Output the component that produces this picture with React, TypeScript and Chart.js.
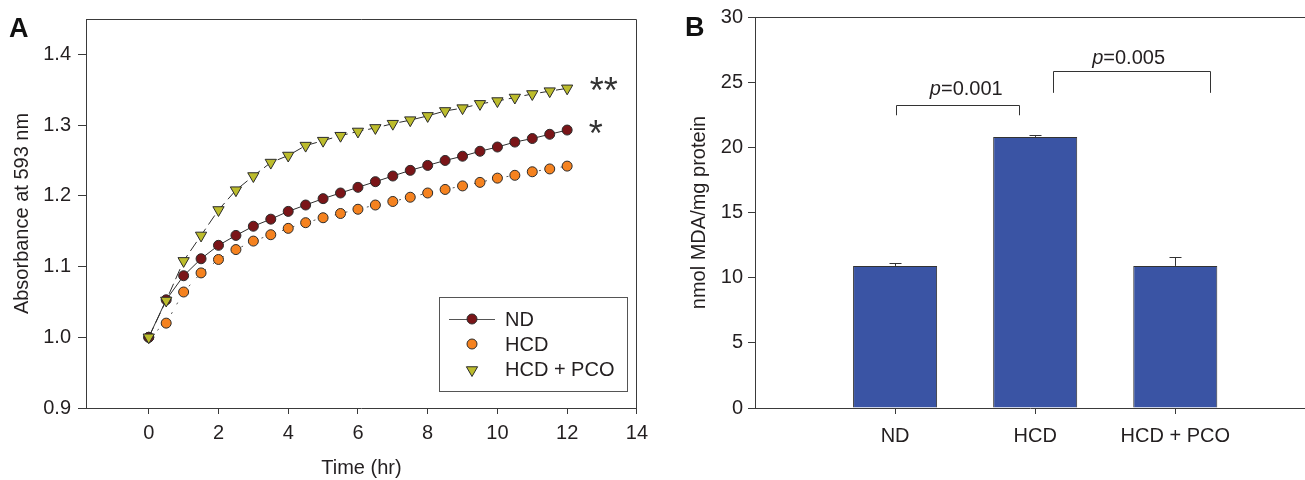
import React, { useEffect, useRef } from 'react';
import { Chart, registerables } from 'chart.js';

Chart.register(...registerables);

const FONT_FAMILY = "'Liberation Sans', Arial, Helvetica, sans-serif";
const TEXT_COLOR = '#231f20';
const AXIS_COLOR = '#3a3a3a';

// ---------- Panel A data ----------
const timeHr = [0, 0.5, 1, 1.5, 2, 2.5, 3, 3.5, 4, 4.5, 5, 5.5, 6, 6.5, 7, 7.5, 8, 8.5, 9, 9.5, 10, 10.5, 11, 11.5, 12];
const ndAbs = [1.0, 1.053, 1.087, 1.111, 1.13, 1.144, 1.157, 1.167, 1.178, 1.187, 1.196, 1.204, 1.212, 1.22, 1.228, 1.236, 1.243, 1.25, 1.256, 1.263, 1.269, 1.276, 1.281, 1.287, 1.293];
const hcdAbs = [1.0, 1.02, 1.064, 1.091, 1.11, 1.124, 1.136, 1.145, 1.154, 1.162, 1.169, 1.175, 1.181, 1.187, 1.192, 1.198, 1.204, 1.209, 1.214, 1.219, 1.225, 1.229, 1.234, 1.238, 1.242];
const hcdPcoAbs = [1.0, 1.052, 1.108, 1.144, 1.18, 1.208, 1.228, 1.247, 1.257, 1.271, 1.278, 1.285, 1.291, 1.296, 1.302, 1.307, 1.313, 1.32, 1.324, 1.33, 1.334, 1.339, 1.344, 1.348, 1.352];
const seriesNamesA = ['ND', 'HCD', 'HCD + PCO'];
const xTicksA = [0, 2, 4, 6, 8, 10, 12, 14];
const yTicksA = [0.9, 1.0, 1.1, 1.2, 1.3, 1.4];
const starLabels = ['**', '*'];
const starAt = [[13.05, 1.358], [12.82, 1.297]];

// ---------- Panel B data ----------
const groups = ['ND', 'HCD', 'HCD + PCO'];
const groupPos = [1, 2, 3];
const mdaMeans = [10.9, 20.8, 10.9];
const mdaErr = [0.2, 0.18, 0.7];
const yTicksB = [0, 5, 10, 15, 20, 25, 30];
const pValues = ['0.001', '0.005'];
// x1, x2, top level, leg end (data units)
const brackets = [[1.01, 1.886, 23.28, 22.46], [2.126, 3.245, 25.85, 24.18]];
const pLabelAt = [[1.508, 24.59], [2.667, 26.94]];

const COLORS = {
  nd: '#7a1518',
  hcd: '#f5821f',
  pco: '#bcbc2c',
  marker: '#2b2b2b',
  bar: '#3a54a4',
};

function font(size: number, style = 'normal', weight = 'normal') {
  return `${style} ${weight} ${size}px ${FONT_FAMILY}`;
}

function drawGlyphCentered(ctx: CanvasRenderingContext2D, text: string, cx: number, cy: number) {
  ctx.textAlign = 'left';
  ctx.textBaseline = 'alphabetic';
  const m = ctx.measureText(text);
  const w = m.actualBoundingBoxLeft + m.actualBoundingBoxRight;
  const x = cx - w / 2 + m.actualBoundingBoxLeft;
  const y = cy + (m.actualBoundingBoxAscent - m.actualBoundingBoxDescent) / 2;
  ctx.fillText(text, x, y);
}

function drawCircle(ctx: CanvasRenderingContext2D, x: number, y: number, r: number, fill: string) {
  ctx.beginPath();
  ctx.arc(x, y, r, 0, Math.PI * 2);
  ctx.fillStyle = fill;
  ctx.fill();
  ctx.lineWidth = 1;
  ctx.strokeStyle = COLORS.marker;
  ctx.stroke();
}

function drawTriDown(ctx: CanvasRenderingContext2D, x: number, y: number, r: number, fill: string) {
  ctx.beginPath();
  for (let k = 0; k < 3; k++) {
    const a = Math.PI + (k * 2 * Math.PI) / 3;
    const px = x + Math.sin(a) * r;
    const py = y - Math.cos(a) * r;
    if (k === 0) ctx.moveTo(px, py);
    else ctx.lineTo(px, py);
  }
  ctx.closePath();
  ctx.fillStyle = fill;
  ctx.fill();
  ctx.lineWidth = 1;
  ctx.strokeStyle = COLORS.marker;
  ctx.stroke();
}

const panelAPlugin = {
  id: 'panelA',
  afterDraw(chart: any) {
    const { ctx, chartArea: ca, scales } = chart;
    const xs = scales.x;
    const ys = scales.y;
    ctx.save();
    // frame top + right
    ctx.strokeStyle = AXIS_COLOR;
    ctx.lineWidth = 1;
    ctx.beginPath();
    const t = Math.round(ca.top) + 0.5;
    const r = Math.round(ca.right) - 0.5;
    ctx.moveTo(ca.left, t);
    ctx.lineTo(r, t);
    ctx.lineTo(r, ca.bottom);
    ctx.stroke();

    // significance stars
    ctx.fillStyle = '#333333';
    ctx.font = font(36);
    starLabels.forEach((s, i) => {
      drawGlyphCentered(ctx, s, xs.getPixelForValue(starAt[i][0]), ys.getPixelForValue(starAt[i][1]));
    });

    // legend
    const L = 439.5, T = 297.5, R = 627.5, B = 391.5;
    ctx.strokeStyle = '#555555';
    ctx.lineWidth = 1;
    ctx.strokeRect(L, T, R - L, B - T);
    const rows = [319, 344, 369];
    const mx = 472;
    ctx.beginPath();
    ctx.strokeStyle = '#555555';
    ctx.moveTo(449, rows[0] + 0.5);
    ctx.lineTo(495, rows[0] + 0.5);
    ctx.stroke();
    drawCircle(ctx, mx, rows[0], 5, COLORS.nd);
    drawCircle(ctx, mx, rows[1], 5, COLORS.hcd);
    drawTriDown(ctx, mx, rows[2] + 1, 6.5, COLORS.pco);
    ctx.fillStyle = TEXT_COLOR;
    ctx.font = font(20);
    ctx.textAlign = 'left';
    ctx.textBaseline = 'alphabetic';
    seriesNamesA.forEach((n, i) => {
      ctx.fillText(n, 505, rows[i] + 7.2);
    });

    // panel letter
    ctx.font = font(27, 'normal', 'bold');
    ctx.fillStyle = '#111111';
    ctx.fillText('A', 9, 37);
    ctx.restore();
  },
};

const panelBPlugin = {
  id: 'panelB',
  afterDraw(chart: any) {
    const { ctx, chartArea: ca, scales } = chart;
    const xs = scales.x;
    const ys = scales.y;
    ctx.save();
    ctx.strokeStyle = AXIS_COLOR;
    ctx.lineWidth = 1;
    const t = Math.round(ca.top) + 0.5;
    ctx.beginPath();
    ctx.moveTo(ca.left, t);
    ctx.lineTo(ca.right, t);
    ctx.stroke();

    // error bars (upper)
    ctx.strokeStyle = '#333333';
    groupPos.forEach((g, i) => {
      const x = Math.round(xs.getPixelForValue(g)) + 0.5;
      const y0 = ys.getPixelForValue(mdaMeans[i]);
      const y1 = Math.round(ys.getPixelForValue(mdaMeans[i] + mdaErr[i])) + 0.5;
      ctx.beginPath();
      ctx.moveTo(x, y0);
      ctx.lineTo(x, y1);
      ctx.moveTo(x - 6, y1);
      ctx.lineTo(x + 6, y1);
      ctx.stroke();
    });

    // brackets
    brackets.forEach(([x1, x2, top, leg]) => {
      const px1 = Math.round(xs.getPixelForValue(x1)) + 0.5;
      const px2 = Math.round(xs.getPixelForValue(x2)) + 0.5;
      const py = Math.round(ys.getPixelForValue(top)) + 0.5;
      const pl = ys.getPixelForValue(leg);
      ctx.beginPath();
      ctx.moveTo(px1, pl);
      ctx.lineTo(px1, py);
      ctx.lineTo(px2, py);
      ctx.lineTo(px2, pl);
      ctx.stroke();
    });

    // p-value labels
    ctx.fillStyle = TEXT_COLOR;
    ctx.textAlign = 'left';
    ctx.textBaseline = 'alphabetic';
    pValues.forEach((pv, i) => {
      const cx = xs.getPixelForValue(pLabelAt[i][0]);
      const cy = ys.getPixelForValue(pLabelAt[i][1]);
      ctx.font = font(20, 'italic');
      const wp = ctx.measureText('p').width;
      ctx.font = font(20);
      const rest = '=' + pv;
      const wr = ctx.measureText(rest).width;
      const x0 = cx - (wp + wr) / 2;
      const base = cy + 7.2;
      ctx.font = font(20, 'italic');
      ctx.fillText('p', x0, base);
      ctx.font = font(20);
      ctx.fillText(rest, x0 + wp, base);
    });

    // panel letter
    ctx.font = font(27, 'normal', 'bold');
    ctx.fillStyle = '#111111';
    ctx.fillText('B', 30, 36);
    ctx.restore();
  },
};

export default function App() {
  const refA = useRef<HTMLCanvasElement | null>(null);
  const refB = useRef<HTMLCanvasElement | null>(null);

  useEffect(() => {
    const tickFont = { family: FONT_FAMILY, size: 20 };

    const chartA = new Chart(refA.current as HTMLCanvasElement, {
      type: 'line',
      data: {
        datasets: [
          {
            label: seriesNamesA[0],
            data: timeHr.map((t, i) => ({ x: t, y: ndAbs[i] })),
            borderColor: '#2e2e2e',
            borderWidth: 1,
            pointStyle: 'circle',
            pointRadius: 5,
            pointBackgroundColor: COLORS.nd,
            pointBorderColor: COLORS.marker,
            pointBorderWidth: 1,
            tension: 0,
            order: 1,
          },
          {
            label: seriesNamesA[1],
            data: timeHr.map((t, i) => ({ x: t, y: hcdAbs[i] })),
            borderColor: '#555555',
            borderWidth: 1,
            borderDash: [2, 9],
            pointStyle: 'circle',
            pointRadius: 5,
            pointBackgroundColor: COLORS.hcd,
            pointBorderColor: COLORS.marker,
            pointBorderWidth: 1,
            tension: 0,
            order: 2,
          },
          {
            label: seriesNamesA[2],
            data: timeHr.map((t, i) => ({ x: t, y: hcdPcoAbs[i] })),
            borderColor: '#2e2e2e',
            borderWidth: 1,
            borderDash: [11, 5],
            pointStyle: 'triangle',
            rotation: 180,
            pointRadius: 6.5,
            pointBackgroundColor: COLORS.pco,
            pointBorderColor: COLORS.marker,
            pointBorderWidth: 1,
            tension: 0,
            order: 0,
          },
        ],
      },
      options: {
        animation: false,
        responsive: false,
        devicePixelRatio: 1,
        layout: { padding: { top: 19, right: 15, left: 0, bottom: 0 } },
        plugins: { legend: { display: false }, tooltip: { enabled: false } },
        scales: {
          x: {
            type: 'linear',
            min: -1.8,
            max: 14,
            afterBuildTicks: (s: any) => {
              s.ticks = xTicksA.map((v) => ({ value: v }));
            },
            afterFit: (s: any) => {
              s.height = 72;
            },
            grid: { drawOnChartArea: false, drawTicks: true, tickLength: 6, color: AXIS_COLOR },
            border: { color: AXIS_COLOR, width: 1 },
            ticks: { font: tickFont, color: TEXT_COLOR, padding: 7, maxRotation: 0, autoSkip: false },
            title: { display: true, text: 'Time (hr)', font: tickFont, color: TEXT_COLOR, padding: { top: 0, bottom: 0 } },
          },
          y: {
            type: 'linear',
            min: 0.9,
            max: 1.45,
            afterBuildTicks: (s: any) => {
              s.ticks = yTicksA.map((v) => ({ value: v }));
            },
            afterFit: (s: any) => {
              s.width = 86;
            },
            grid: { drawOnChartArea: false, drawTicks: true, tickLength: 8, color: AXIS_COLOR },
            border: { color: AXIS_COLOR, width: 1 },
            ticks: {
              font: tickFont,
              color: TEXT_COLOR,
              padding: 7,
              autoSkip: false,
              callback: (v: any) => Number(v).toFixed(1),
            },
            title: { display: true, text: 'Absorbance at 593 nm', font: tickFont, color: TEXT_COLOR, padding: { top: 10, bottom: 0 } },
          },
        },
      },
      plugins: [panelAPlugin],
    } as any);

    const chartB = new Chart(refB.current as HTMLCanvasElement, {
      type: 'bar',
      data: {
        datasets: [
          {
            label: 'nmol MDA/mg protein',
            data: groupPos.map((g, i) => ({ x: g, y: mdaMeans[i] })),
            backgroundColor: COLORS.bar,
            borderColor: '#333333',
            borderWidth: 1,
            barPercentage: 0.6,
            categoryPercentage: 1,
          },
        ],
      },
      options: {
        animation: false,
        responsive: false,
        devicePixelRatio: 1,
        layout: { padding: { top: 17, right: 0, left: 0, bottom: 0 } },
        plugins: { legend: { display: false }, tooltip: { enabled: false } },
        scales: {
          x: {
            type: 'linear',
            offset: false,
            min: 0,
            max: 3.926,
            afterBuildTicks: (s: any) => {
              s.ticks = groupPos.map((v) => ({ value: v }));
            },
            afterFit: (s: any) => {
              s.height = 72;
            },
            grid: { drawOnChartArea: false, drawTicks: true, tickLength: 6, color: AXIS_COLOR, offset: false },
            border: { color: AXIS_COLOR, width: 1 },
            ticks: {
              font: tickFont,
              color: TEXT_COLOR,
              padding: 10,
              maxRotation: 0,
              autoSkip: false,
              callback: (v: any) => groups[groupPos.indexOf(Number(v))],
            },
          },
          y: {
            type: 'linear',
            min: 0,
            max: 30,
            afterBuildTicks: (s: any) => {
              s.ticks = yTicksB.map((v) => ({ value: v }));
            },
            afterFit: (s: any) => {
              s.width = 100;
            },
            grid: { drawOnChartArea: false, drawTicks: true, tickLength: 7, color: AXIS_COLOR },
            border: { color: AXIS_COLOR, width: 1 },
            ticks: { font: tickFont, color: TEXT_COLOR, padding: 5, autoSkip: false },
            title: { display: true, text: 'nmol MDA/mg protein', font: tickFont, color: TEXT_COLOR, padding: { top: 32, bottom: 0 } },
          },
        },
      },
      plugins: [panelBPlugin],
    } as any);

    return () => {
      chartA.destroy();
      chartB.destroy();
    };
  }, []);

  return (
    <div style={{ position: 'fixed', left: 0, top: 0, width: 1305, height: 480, background: '#ffffff', overflow: 'hidden' }}>
      <canvas ref={refA} width={655} height={480} style={{ position: 'absolute', left: 0, top: 0, width: 655, height: 480 }} />
      <canvas ref={refB} width={650} height={480} style={{ position: 'absolute', left: 655, top: 0, width: 650, height: 480 }} />
    </div>
  );
}
